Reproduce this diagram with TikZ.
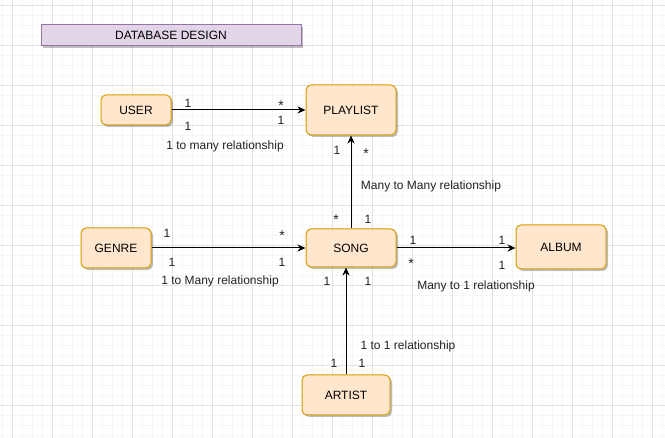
\documentclass[tikz,border=0pt]{standalone}
\usepackage{fontspec}
\setmainfont{Liberation Sans}
\usetikzlibrary{shadows,arrows.meta}
\definecolor{entfill}{HTML}{FFE6CC}
\definecolor{entdraw}{HTML}{D79B00}
\definecolor{titfill}{HTML}{E1D5E7}
\definecolor{titdraw}{HTML}{9673A6}
\definecolor{gridminor}{HTML}{F6F6F6}
\definecolor{gridmajor}{HTML}{E2E2E2}
\definecolor{labtext}{HTML}{222222}
\tikzset{
  entity/.style={draw=entdraw, fill=entfill, line width=1pt, rounded corners=5pt,
    minimum width=#1, inner sep=0pt, font=\fontsize{12}{14}\selectfont,
    drop shadow={shadow xshift=2pt, shadow yshift=-2pt, opacity=0.25, fill=black}},
  entity/.default={90pt},
  lab/.style={inner sep=0pt, text=labtext, font=\fontsize{12}{14}\selectfont},
  star/.style={inner sep=0pt, text=labtext, font=\fontsize{14}{14}\selectfont},
  conn/.style={line width=1pt, -{Stealth[length=8pt,width=7pt]}},
}
\begin{document}
\begin{tikzpicture}[x=1pt,y=-1pt]
\useasboundingbox (0,0) rectangle (665,438);
\fill[white] (0,0) rectangle (665,438);
% grid
\foreach \gx in {2,12,...,662} \draw[gridminor, line width=0.6pt] (\gx,0) -- (\gx,438);
\foreach \gy in {5,15,...,435} \draw[gridminor, line width=0.6pt] (0,\gy) -- (665,\gy);
\foreach \gx in {12,52,...,652} \draw[gridmajor, line width=0.8pt] (\gx,0) -- (\gx,438);
\foreach \gy in {5,45,...,405} \draw[gridmajor, line width=0.8pt] (0,\gy) -- (665,\gy);
% title
\node[draw=titdraw, fill=titfill, line width=1pt, minimum width=260pt, minimum height=21pt,
  inner sep=0pt, font=\fontsize{12}{14}\selectfont,
  drop shadow={shadow xshift=2pt, shadow yshift=-2pt, opacity=0.25, fill=black}]
  (title) at (171,35.5) {DATABASE DESIGN};
% entities
\node[entity=70pt, minimum height=30pt] (user) at (136,110) {USER};
\node[entity=90pt, minimum height=50pt] (playlist) at (351,110) {PLAYLIST};
\node[entity=70pt, minimum height=40pt] (genre) at (116,248) {GENRE};
\node[entity=90pt, minimum height=38pt] (song) at (351,248) {SONG};
\node[entity=90pt, minimum height=44pt] (album) at (561,247) {ALBUM};
\node[entity=88pt, minimum height=40pt] (artist) at (346,395) {ARTIST};
% connectors
\draw[conn] (user) -- (playlist);
\draw[conn] (song) -- (playlist);
\draw[conn] (genre) -- (song);
\draw[conn] (song.east) -- (song.east -| album.west);
\draw[conn] (artist.north) -- (artist.north |- song.south);
% labels user-playlist
\node[lab] (l1) at (188,103) {1};
\node[lab] (l2) at (188,126) {1};
\node[star] (l3) at (281,106) {*};
\node[lab] (l4) at (281,120) {1};
\node[lab] (r1) at (225,146) {1 to many relationship};
% song-playlist
\node[lab] (l5) at (337,150) {1};
\node[star] (l6) at (366,154) {*};
\node[lab] (r2) at (431,186) {Many to Many relationship};
\node[star] (l7) at (336,220) {*};
\node[lab] (l8) at (368,219) {1};
% genre-song
\node[lab] (l9) at (167,233) {1};
\node[lab] (l10) at (172,262) {1};
\node[star] (l11) at (282,236) {*};
\node[lab] (l12) at (282,262) {1};
\node[lab] (r3) at (220,281) {1 to Many relationship};
% song-album
\node[lab] (l13) at (413,240) {1};
\node[star] (l14) at (411,264) {*};
\node[lab] (l15) at (502,240) {1};
\node[lab] (l16) at (502,265) {1};
\node[lab] (r4) at (476,286) {Many to 1 relationship};
% artist-song
\node[lab] (l17) at (327,281) {1};
\node[lab] (l18) at (368,281) {1};
\node[lab] (l19) at (334,363) {1};
\node[lab] (l20) at (362,363) {1};
\node[lab] (r5) at (408,346) {1 to 1 relationship};
\end{tikzpicture}
\end{document}
